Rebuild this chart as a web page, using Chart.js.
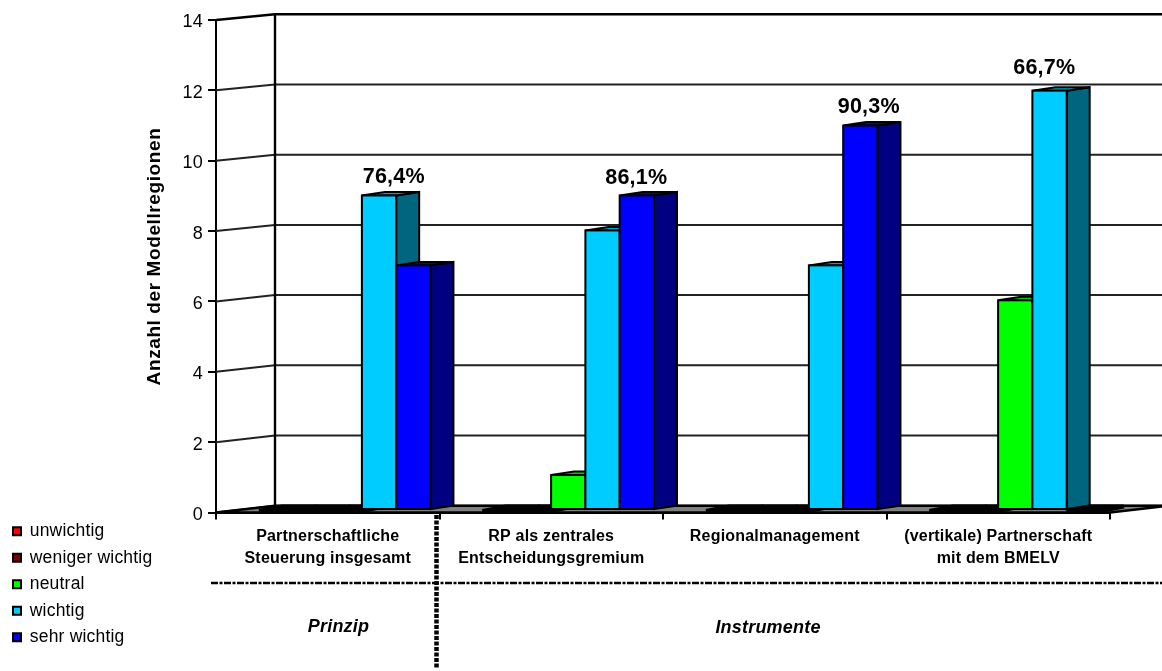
<!DOCTYPE html>
<html>

<head>
    <meta charset="utf-8">
    <script src="https://cdn.jsdelivr.net/npm/chart.js@4/dist/chart.umd.min.js"></script>
    <style>
        body {
            margin: 0;
            background: #fff;
        }

        canvas {
            display: block;
        }
    </style>
</head>

<body>
    <canvas id="myChart" width="1162" height="671"></canvas>
    <script>
        const categories = [
            ['Partnerschaftliche', 'Steuerung insgesamt'],
            ['RP als zentrales', 'Entscheidungsgremium'],
            'Regionalmanagement',
            ['(vertikale) Partnerschaft', 'mit dem BMELV']
        ];
        const unwichtig = [0, 0, 0, 0];
        const wenigerWichtig = [0, 0, 0, 0];
        const neutral = [0, 1, 0, 6];
        const wichtig = [9, 8, 7, 12];
        const sehrWichtig = [7, 9, 11, 0];
        const shareLabels = ['76,4%', '86,1%', '90,3%', '66,7%'];
        const groupCaptions = ['Prinzip', 'Instrumente'];

        const FONT = '"Liberation Sans", Arial, sans-serif';

        // front, side and top colour per series
        const faces = [
            { front: '#ff0000', side: '#800000', top: '#cc0000' },
            { front: '#800000', side: '#400000', top: '#660000' },
            { front: '#00ff00', side: '#008000', top: '#00cc00' },
            { front: '#00ccff', side: '#006680', top: '#00a3cc' },
            { front: '#0000ff', side: '#000080', top: '#0000cc' }
        ];

        // 3d offsets in px
        const WALL = { dx: 59, dy: -6.8 };
        const BAR_DEPTH = { dx: 23, dy: -3.5 };
        // where each share label sits relative to its category and value
        const shareOffsets = [
            { dx: 66, value: 9, up: 16.5 },
            { dx: 85, value: 9, up: 16 },
            { dx: 94, value: 11, up: 17 },
            { dx: 46, value: 12, up: 21 }
        ];

        function polygon(ctx, pts, fill) {
            ctx.beginPath();
            pts.forEach((p, i) => i ? ctx.lineTo(p[0], p[1]) : ctx.moveTo(p[0], p[1]));
            ctx.closePath();
            if (fill) {
                ctx.fillStyle = fill;
                ctx.fill();
            }
            ctx.stroke();
        }

        function useSpacing(chart) {
            chart.ctx.letterSpacing = '0.2px';
        }

        const box3d = {
            id: 'box3d',
            beforeUpdate: useSpacing,
            beforeDraw: useSpacing,
            beforeDatasetsDraw(chart) {
                const ctx = chart.ctx;
                const y = chart.scales.y;
                const area = chart.chartArea;
                const backX = area.left + WALL.dx;
                const floorY = y.getPixelForValue(0);

                ctx.save();
                ctx.lineJoin = 'miter';

                // left wall and back wall lines for every tick
                y.ticks.forEach(t => {
                    const py = y.getPixelForValue(t.value);
                    const by = floorY + WALL.dy - (floorY - py) * 0.9978;
                    ctx.lineWidth = t.value === 14 ? 2.4 : 2;
                    ctx.strokeStyle = t.value === 14 ? '#000' : '#222';
                    ctx.beginPath();
                    ctx.moveTo(area.left, py);
                    ctx.lineTo(backX, by);
                    ctx.lineTo(chart.width + 10, by);
                    ctx.stroke();
                });
                ctx.strokeStyle = '#000';
                ctx.lineWidth = 2.4;
                ctx.beginPath();
                ctx.moveTo(backX, floorY + WALL.dy - (floorY - y.getPixelForValue(14)) * 0.9978);
                ctx.lineTo(backX, floorY + WALL.dy);
                ctx.stroke();

                // floor
                ctx.lineWidth = 2.6;
                polygon(ctx, [
                    [area.left, floorY],
                    [backX, floorY + WALL.dy],
                    [area.right + WALL.dx, floorY + WALL.dy],
                    [area.right, floorY]
                ], '#808080');

                // the bars stand between the front edge and the back wall
                chart.getSortedVisibleDatasetMetas().forEach(meta => {
                    const face = faces[meta.index];
                    ctx.save();
                    ctx.translate(17, 510);
                    ctx.scale(1, 0.9934);
                    ctx.translate(0, -floorY);
                    meta.data.forEach(bar => {
                        const { x, y: top, base, width } = bar.getProps(['x', 'y', 'base', 'width'], true);
                        const l = x - width / 2;
                        const r = x + width / 2;
                        const d = BAR_DEPTH;
                        if (base - top < 1) {
                            // empty bars only leave a dark slab on the floor
                            ctx.lineWidth = 4;
                            polygon(ctx, [[l, top + 1], [l + d.dx, top + d.dy], [r + d.dx, top + d.dy], [r, top + 1]], '#000');
                            return;
                        }
                        ctx.lineWidth = 2;
                        polygon(ctx, [[r, top], [r + d.dx, top + d.dy], [r + d.dx, base + d.dy], [r, base]], face.side);
                        polygon(ctx, [[l, top], [l + d.dx, top + d.dy], [r + d.dx, top + d.dy], [r, top]], face.top);
                    });
                    meta.controller.draw();
                    ctx.lineWidth = 2;
                    meta.data.forEach(bar => {
                        const { x, y: top, base, width } = bar.getProps(['x', 'y', 'base', 'width'], true);
                        ctx.strokeRect(x - width / 2, top, width, base - top);
                    });
                    ctx.restore();
                });
                ctx.restore();
                return false;
            },
            afterDraw(chart) {
                const ctx = chart.ctx;
                const x = chart.scales.x;
                const y = chart.scales.y;

                ctx.save();
                ctx.fillStyle = '#000';
                ctx.textAlign = 'center';
                ctx.textBaseline = 'middle';

                // share of positive answers above each group
                ctx.font = 'bold 21.5px ' + FONT;
                shareLabels.forEach((label, i) => {
                    const o = shareOffsets[i];
                    const py = y.getPixelForValue(o.value) * 0.9934 - 0.9;
                    ctx.fillText(label, x.getPixelForValue(i) + o.dx, py - o.up);
                });

                // axis title
                ctx.save();
                ctx.translate(155, 256.5);
                ctx.rotate(-Math.PI / 2);
                ctx.font = 'bold 19px ' + FONT;
                ctx.letterSpacing = '0.6px';
                ctx.fillText('Anzahl der Modellregionen', 0, 0);
                ctx.restore();

                // dotted separators between the groups
                ctx.strokeStyle = '#000';
                ctx.lineWidth = 2.4;
                ctx.setLineDash([7, 1.5, 3, 1.5]);
                ctx.beginPath();
                ctx.moveTo(211, 583);
                ctx.lineTo(chart.width, 583);
                ctx.stroke();
                ctx.lineWidth = 4.5;
                ctx.setLineDash([4, 1.5]);
                ctx.beginPath();
                ctx.moveTo(x.getPixelForValue(0.5) - 3, 515);
                ctx.lineTo(x.getPixelForValue(0.5) - 3, 668);
                ctx.stroke();
                ctx.setLineDash([]);

                ctx.font = 'italic bold 18px ' + FONT;
                ctx.fillText(groupCaptions[0], 338.5, 627);
                ctx.fillText(groupCaptions[1], 768, 628);
                ctx.restore();
            }
        };

        function series(label, data, i) {
            return {
                label: label,
                data: data,
                backgroundColor: faces[i].front,
                borderWidth: 0,
                categoryPercentage: 0.767,
                barPercentage: 1
            };
        }

        const ctx = document.getElementById('myChart');
        new Chart(ctx, {
            type: 'bar',
            data: {
                labels: categories,
                datasets: [
                    series('unwichtig', unwichtig, 0),
                    series('weniger wichtig', wenigerWichtig, 1),
                    series('neutral', neutral, 2),
                    series('wichtig', wichtig, 3),
                    series('sehr wichtig', sehrWichtig, 4)
                ]
            },
            options: {
                responsive: false,
                animation: false,
                font: { family: FONT },
                layout: {
                    padding: { top: 20, right: 52, bottom: 16, left: 4 }
                },
                plugins: {
                    tooltip: { enabled: false },
                    legend: {
                        position: 'left',
                        align: 'end',
                        labels: {
                            boxWidth: 8,
                            boxHeight: 8,
                            padding: 9,
                            color: '#000',
                            font: { family: FONT, size: 17.5 },
                            generateLabels(chart) {
                                const items = Chart.defaults.plugins.legend.labels.generateLabels(chart);
                                return items.map(item => ({ ...item, lineWidth: 2, strokeStyle: '#000' }));
                            }
                        }
                    }
                },
                scales: {
                    x: {
                        grid: { drawOnChartArea: false, color: '#000', lineWidth: 2, tickLength: 7 },
                        border: { color: '#000', width: 2 },
                        ticks: {
                            color: '#000',
                            maxRotation: 0,
                            autoSkip: false,
                            padding: 6,
                            font: { family: FONT, size: 16, weight: 'bold', lineHeight: 1.38 }
                        },
                        afterFit(axis) {
                            axis.height = 671 - 16 - 512.5;
                        }
                    },
                    y: {
                        min: 0,
                        max: 14,
                        grid: { drawOnChartArea: false, color: '#000', lineWidth: 2, tickLength: 8 },
                        border: { color: '#000', width: 2 },
                        ticks: {
                            stepSize: 2,
                            color: '#000',
                            padding: 5,
                            // blank first line drops the number a little below its tick
                            callback: value => ['', value],
                            font: { family: FONT, size: 18, lineHeight: '5px' }
                        },
                        afterFit(axis) {
                            axis.width = 216 - 4 - axis.chart.legend.width;
                        }
                    }
                }
            },
            plugins: [box3d]
        });
    </script>
</body>

</html>
